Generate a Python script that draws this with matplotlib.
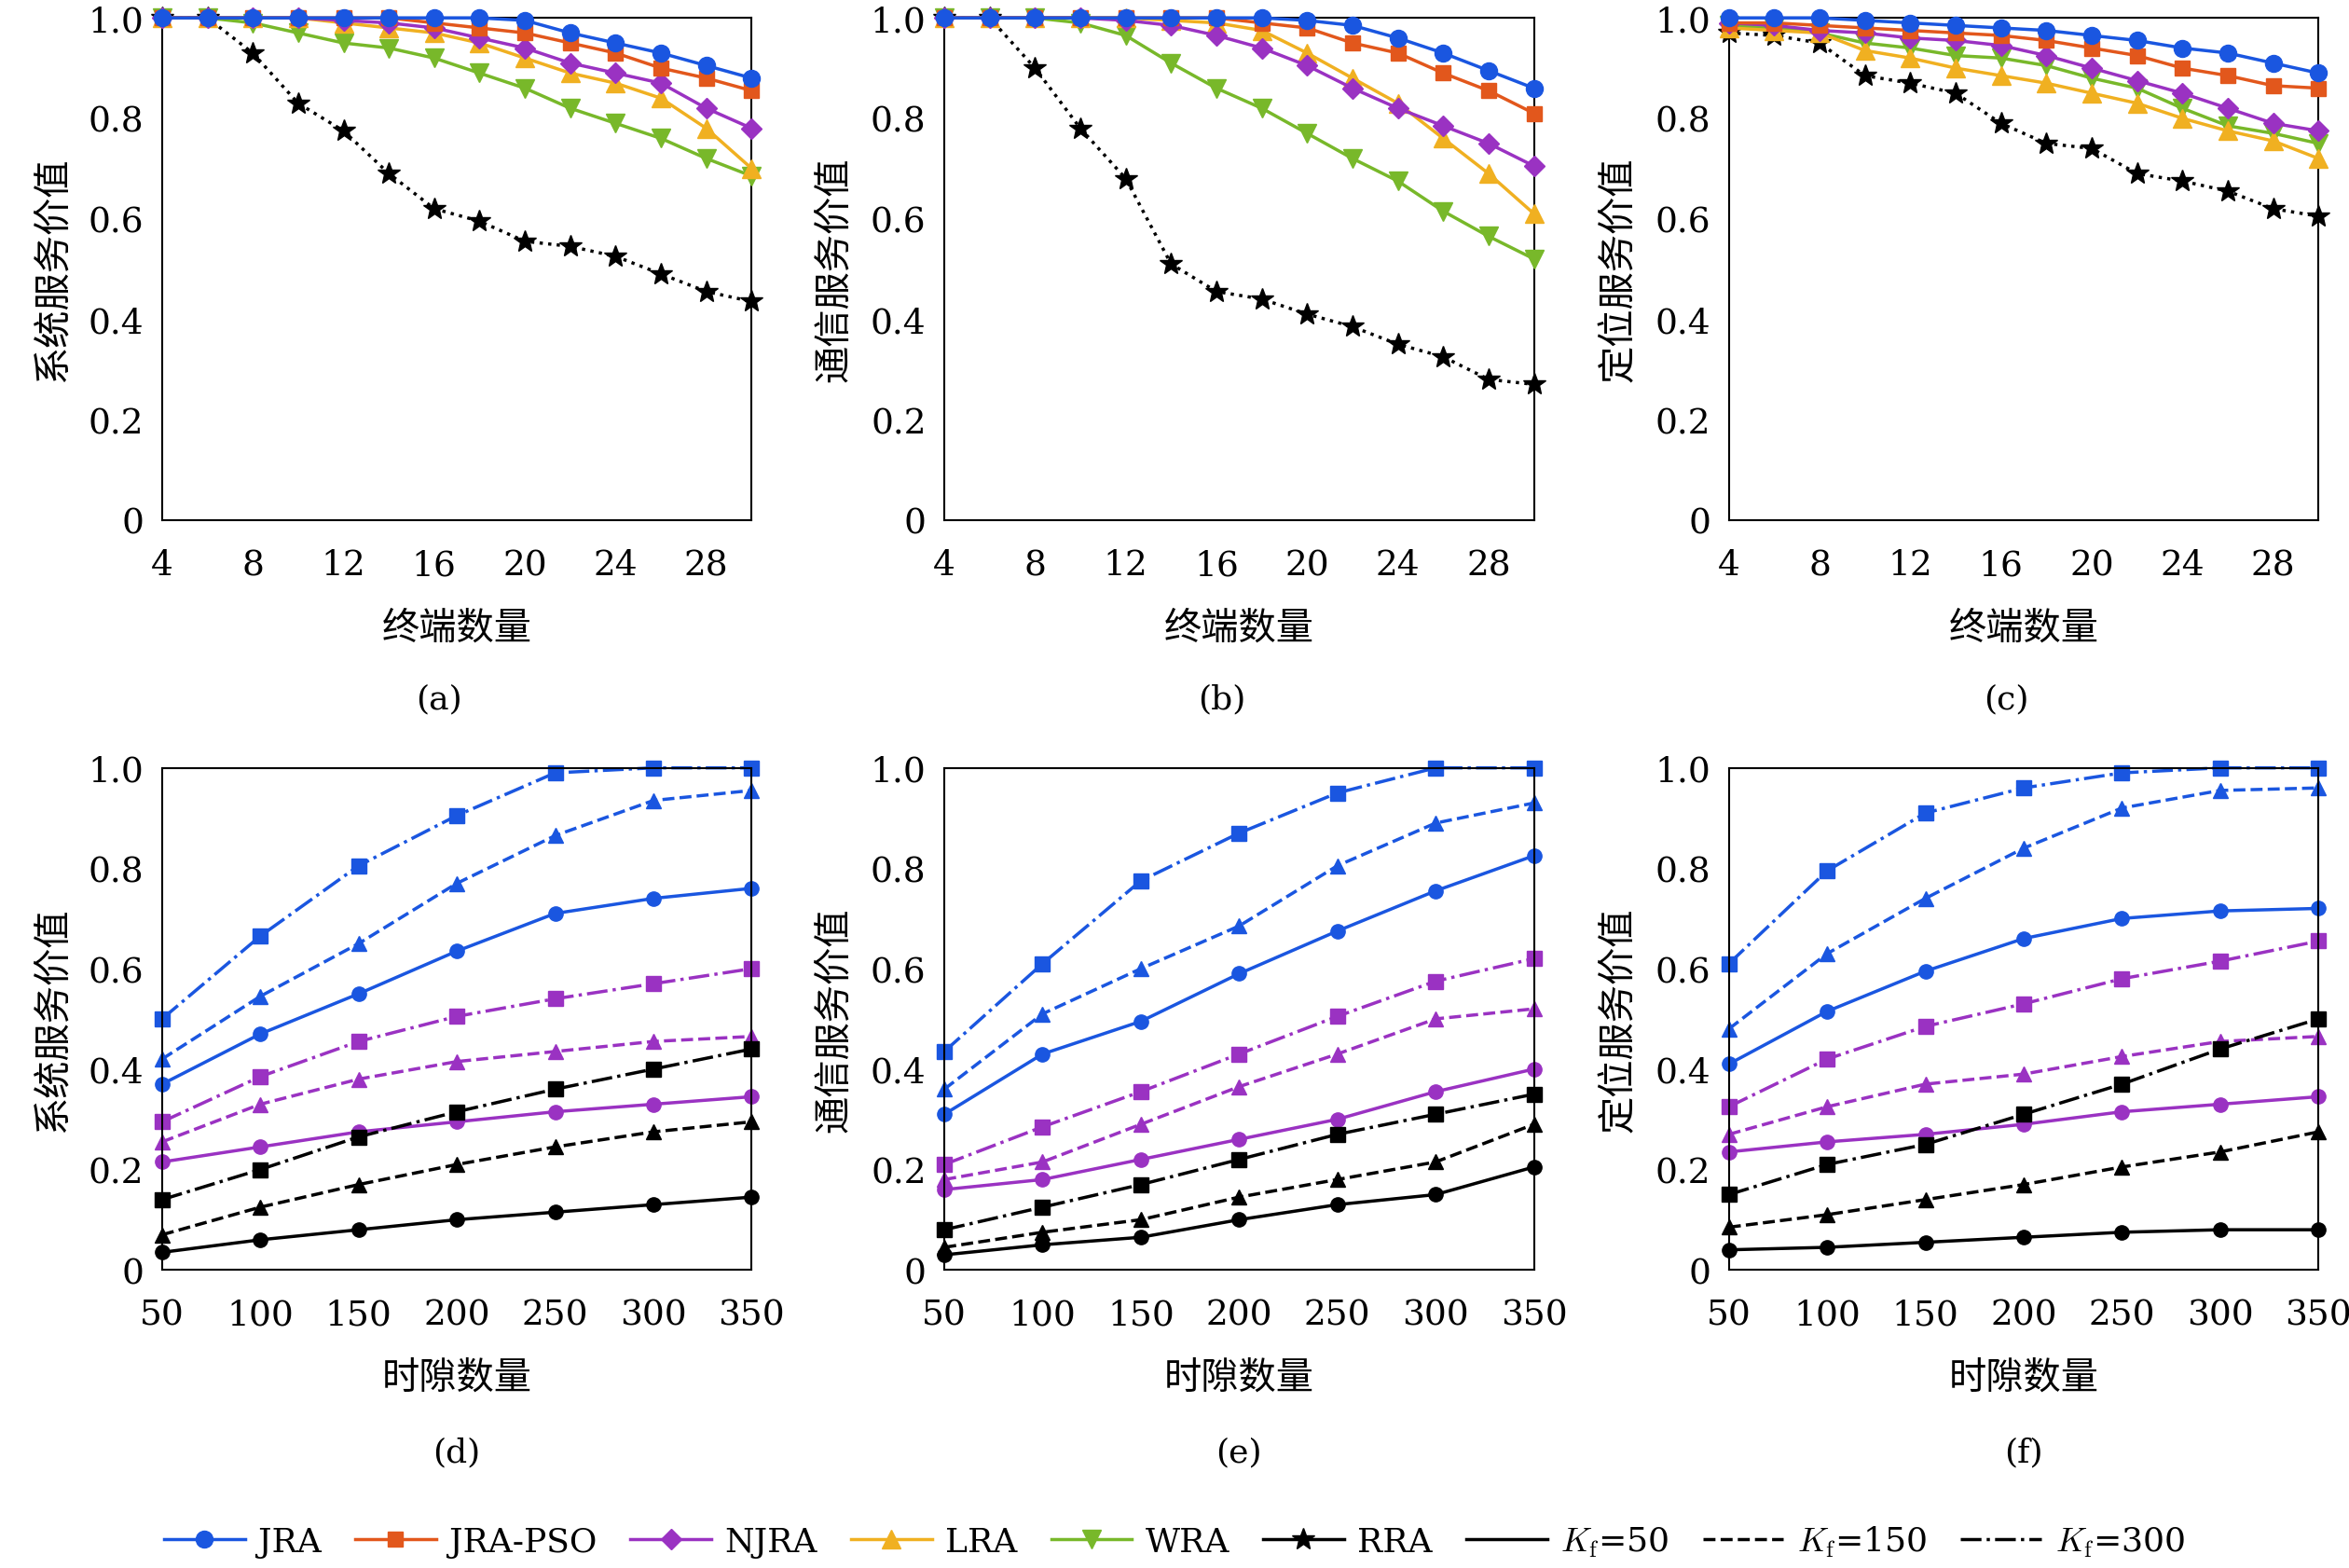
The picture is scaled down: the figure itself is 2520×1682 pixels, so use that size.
import matplotlib
matplotlib.use('Agg')
import matplotlib.pyplot as plt
from matplotlib.lines import Line2D

plt.rcParams['font.family'] = ['DejaVu Serif', 'Noto Sans CJK SC']
plt.rcParams['mathtext.fontset'] = 'cm'
plt.rcParams['font.size'] = 26

# top row: service value vs number of terminals
terminals = [4, 6, 8, 10, 12, 14, 16, 18, 20, 22, 24, 26, 28, 30]
methods = ['JRA', 'JRA-PSO', 'NJRA', 'LRA', 'WRA', 'RRA']
sys_vals = [
    [1, 1, 1, 1, 1, 1, 1, 1, 0.995, 0.97, 0.95, 0.93, 0.905, 0.88],
    [1, 1, 1, 1, 1, 1, 0.99, 0.98, 0.97, 0.95, 0.93, 0.9, 0.88, 0.855],
    [1, 1, 1, 1, 0.995, 0.99, 0.98, 0.96, 0.94, 0.91, 0.89, 0.87, 0.82, 0.78],
    [1, 1, 1, 1, 0.99, 0.98, 0.97, 0.95, 0.92, 0.89, 0.87, 0.84, 0.78, 0.70],
    [1, 1, 0.99, 0.97, 0.95, 0.94, 0.92, 0.89, 0.86, 0.82, 0.79, 0.76, 0.72, 0.685],
    [1, 1, 0.93, 0.83, 0.775, 0.69, 0.62, 0.595, 0.555, 0.545, 0.525, 0.49, 0.455, 0.435],
]
com_vals = [
    [1, 1, 1, 1, 1, 1, 1, 1, 0.995, 0.985, 0.96, 0.93, 0.895, 0.86],
    [1, 1, 1, 1, 1, 1, 1, 0.99, 0.98, 0.95, 0.93, 0.89, 0.855, 0.81],
    [1, 1, 1, 1, 0.995, 0.985, 0.965, 0.94, 0.905, 0.86, 0.82, 0.785, 0.75, 0.705],
    [1, 1, 1, 1, 1, 0.995, 0.99, 0.975, 0.93, 0.88, 0.83, 0.76, 0.69, 0.61],
    [1, 1, 1, 0.99, 0.965, 0.91, 0.86, 0.82, 0.77, 0.72, 0.675, 0.615, 0.565, 0.52],
    [1, 1, 0.9, 0.78, 0.68, 0.51, 0.455, 0.44, 0.41, 0.385, 0.35, 0.325, 0.28, 0.27],
]
pos_vals = [
    [1, 1, 1, 0.995, 0.99, 0.985, 0.98, 0.975, 0.965, 0.955, 0.94, 0.93, 0.91, 0.89],
    [0.99, 0.99, 0.985, 0.98, 0.975, 0.97, 0.965, 0.955, 0.94, 0.925, 0.9, 0.885, 0.865, 0.86],
    [0.99, 0.985, 0.975, 0.97, 0.96, 0.955, 0.945, 0.925, 0.9, 0.875, 0.85, 0.82, 0.79, 0.775],
    [0.98, 0.975, 0.97, 0.935, 0.92, 0.9, 0.885, 0.87, 0.85, 0.83, 0.8, 0.775, 0.755, 0.72],
    [0.985, 0.98, 0.97, 0.95, 0.94, 0.925, 0.92, 0.905, 0.88, 0.86, 0.82, 0.785, 0.77, 0.75],
    [0.97, 0.965, 0.95, 0.885, 0.87, 0.85, 0.79, 0.75, 0.74, 0.69, 0.675, 0.655, 0.62, 0.605],
]

# bottom row: service value vs number of slots, order JRA/NJRA/RRA x Kf=50/150/300
slots = [50, 100, 150, 200, 250, 300, 350]
kf_list = [50, 150, 300]
sys_slot = {
    'JRA': [[.37, .47, .55, .635, .71, .74, .76], [.42, .545, .65, .77, .865, .935, .955], [.50, .665, .805, .905, .99, 1, 1]],
    'NJRA': [[.215, .245, .275, .295, .315, .33, .345], [.255, .33, .38, .415, .435, .455, .465], [.295, .385, .455, .505, .54, .57, .60]],
    'RRA': [[.035, .06, .08, .10, .115, .13, .145], [.07, .125, .17, .21, .245, .275, .295], [.14, .20, .265, .315, .36, .40, .44]],
}
com_slot = {
    'JRA': [[.31, .43, .495, .59, .675, .755, .825], [.36, .51, .60, .685, .805, .89, .93], [.435, .61, .775, .87, .95, 1, 1]],
    'NJRA': [[.16, .18, .22, .26, .30, .355, .40], [.18, .215, .29, .365, .43, .50, .52], [.21, .285, .355, .43, .505, .575, .62]],
    'RRA': [[.03, .05, .065, .10, .13, .15, .205], [.045, .075, .10, .145, .18, .215, .29], [.08, .125, .17, .22, .27, .31, .35]],
}
pos_slot = {
    'JRA': [[.41, .515, .595, .66, .70, .715, .72], [.48, .63, .74, .84, .92, .955, .96], [.61, .795, .91, .96, .99, 1, 1]],
    'NJRA': [[.235, .255, .27, .29, .315, .33, .345], [.27, .325, .37, .39, .425, .455, .465], [.325, .42, .485, .53, .58, .615, .655]],
    'RRA': [[.04, .045, .055, .065, .075, .08, .08], [.085, .11, .14, .17, .205, .235, .275], [.15, .21, .25, .31, .37, .44, .50]],
}

colors = {'JRA': '#1a56e0', 'JRA-PSO': '#e2571c', 'NJRA': '#9a32c2',
          'LRA': '#f0b021', 'WRA': '#78b82a', 'RRA': 'black'}
markers = {'JRA': 'o', 'JRA-PSO': 's', 'NJRA': 'D', 'LRA': '^', 'WRA': 'v', 'RRA': '*'}
msizes = {'JRA': 13, 'JRA-PSO': 11, 'NJRA': 11, 'LRA': 14, 'WRA': 14, 'RRA': 18}
kf_styles = {50: ('-', 'o'), 150: ('--', '^'), 300: ('-.', 's')}

fig = plt.figure(figsize=(25.2, 16.83), dpi=100)
W, H = 0.251, 0.32
lefts = [0.069, 0.402, 0.736]
ylabels = ['系统服务价值', '通信服务价值', '定位服务价值']


def style_axes(ax, ylab):
    ax.set_ylim(0, 1.0)
    ax.set_yticks([0, 0.2, 0.4, 0.6, 0.8, 1.0])
    ax.set_yticklabels(['0', '0.2', '0.4', '0.6', '0.8', '1.0'])
    ax.tick_params(direction='in', length=0, labelsize=27)
    ax.tick_params(axis='x', pad=22)
    ax.tick_params(axis='y', pad=14)
    ax.set_ylabel(ylab, fontsize=29, labelpad=14)
    for s in ax.spines.values():
        s.set_linewidth(1.5)


for i, data in enumerate([sys_vals, com_vals, pos_vals]):
    ax = fig.add_axes([lefts[i], 0.668, W, H])
    for m, vals in zip(methods, data):
        ls = ':' if m == 'RRA' else '-'
        ax.plot(terminals, vals, ls=ls, color=colors[m], marker=markers[m],
                ms=msizes[m], lw=2.5, zorder=10 - methods.index(m), clip_on=False)
    ax.set_xlim(4, 30)
    ax.set_xticks([4, 8, 12, 16, 20, 24, 28])
    style_axes(ax, ylabels[i])
    ax.set_xlabel('终端数量', fontsize=29, labelpad=22)
    fig.text(lefts[i] + W * 0.47, 0.548, '(%s)' % 'abc'[i], ha='center', fontsize=26)

for i, data in enumerate([sys_slot, com_slot, pos_slot]):
    ax = fig.add_axes([lefts[i], 0.19, W, H])
    for m in ['JRA', 'NJRA', 'RRA']:
        for kf, vals in zip(kf_list, data[m]):
            ls, mk = kf_styles[kf]
            ax.plot(slots, vals, ls=ls, marker=mk, color=colors[m], ms=11, lw=2.5, clip_on=False)
    ax.set_xlim(50, 350)
    ax.set_xticks(slots)
    style_axes(ax, ylabels[i])
    ax.set_xlabel('时隙数量', fontsize=29, labelpad=22)
    fig.text(lefts[i] + W * 0.5, 0.068, '(%s)' % 'def'[i], ha='center', fontsize=26)

handles = [Line2D([], [], color=colors[m], marker=markers[m], ms=msizes[m], lw=2.5) for m in methods]
labels = list(methods)
for kf in kf_list:
    handles.append(Line2D([], [], color='black', ls=kf_styles[kf][0], lw=2.5))
    labels.append(r'$K_{\mathrm{f}}$=%d' % kf)
fig.legend(handles, labels, loc='center', bbox_to_anchor=(0.5, 0.017), ncol=9,
           frameon=False, fontsize=26, handlelength=2.4, columnspacing=1.0, handletextpad=0.4)

fig.savefig('out.png', dpi=100, facecolor='white')
